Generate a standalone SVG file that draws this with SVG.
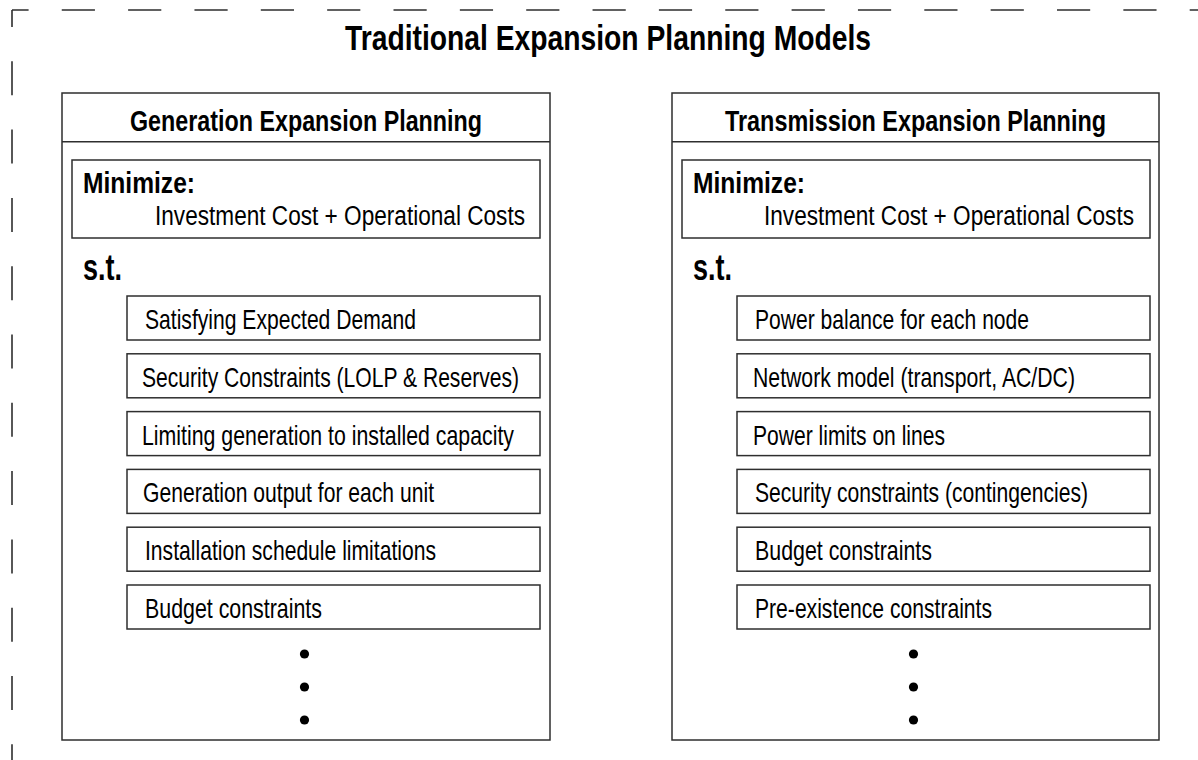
<svg xmlns="http://www.w3.org/2000/svg" width="1198" height="760" viewBox="0 0 1198 760">
<style>
  .frame{fill:none;stroke:#2e2e2e;stroke-width:1.6}
  .box{fill:#fff;stroke:#2e2e2e;stroke-width:1.5}
  .t{font-family:"Liberation Sans",Arial,sans-serif;fill:#000}
  .reg{font-size:28px}
  .bold{font-weight:bold}
  .dot{fill:#000}
</style>
<rect x="0" y="0" width="1198" height="760" fill="#fff"/>
<g id="border">
  <path class="frame" d="M12,10 H1198" stroke-dasharray="33.2 33.15" stroke-dashoffset="16.6"/>
  <path class="frame" d="M12,10 V760" stroke-dasharray="34 34.3" stroke-dashoffset="17"/>
</g>
<g id="title">
  <text class="t bold" x="345" y="50" font-size="35" textLength="526" lengthAdjust="spacingAndGlyphs">Traditional Expansion Planning Models</text>
</g>
<g id="gep">
  <rect class="box" x="62" y="93" width="488" height="647"/>
  <line class="box" x1="62" y1="141.7" x2="550" y2="141.7"/>
  <text class="t bold" x="130" y="131" font-size="29" textLength="352" lengthAdjust="spacingAndGlyphs">Generation Expansion Planning</text>
  <g id="gep-objective">
    <rect class="box" x="72" y="160" width="468" height="78"/>
    <text class="t bold" x="83" y="193" font-size="30" textLength="112" lengthAdjust="spacingAndGlyphs">Minimize:</text>
    <text class="t reg" transform="translate(155,225) scale(0.8,1)" x="0" y="0" textLength="462.5" lengthAdjust="spacingAndGlyphs">Investment Cost + Operational Costs</text>
  </g>
  <text class="t bold" x="83" y="280" font-size="36" textLength="39" lengthAdjust="spacingAndGlyphs">s.t.</text>
  <g id="gep-c1"><rect class="box" x="127" y="296" width="413" height="44"/><text class="t reg" x="145" y="329" textLength="271" lengthAdjust="spacingAndGlyphs">Satisfying Expected Demand</text></g>
  <g id="gep-c2"><rect class="box" x="127" y="353.8" width="413" height="44"/><text class="t reg" x="142" y="386.8" textLength="377" lengthAdjust="spacingAndGlyphs">Security Constraints (LOLP &amp; Reserves)</text></g>
  <g id="gep-c3"><rect class="box" x="127" y="411.6" width="413" height="44"/><text class="t reg" x="142" y="444.6" textLength="372" lengthAdjust="spacingAndGlyphs">Limiting generation to installed capacity</text></g>
  <g id="gep-c4"><rect class="box" x="127" y="469.4" width="413" height="44"/><text class="t reg" x="143" y="502.4" textLength="291" lengthAdjust="spacingAndGlyphs">Generation output for each unit</text></g>
  <g id="gep-c5"><rect class="box" x="127" y="527.2" width="413" height="44"/><text class="t reg" x="145" y="560.2" textLength="291" lengthAdjust="spacingAndGlyphs">Installation schedule limitations</text></g>
  <g id="gep-c6"><rect class="box" x="127" y="585" width="413" height="44"/><text class="t reg" x="145" y="618" textLength="177" lengthAdjust="spacingAndGlyphs">Budget constraints</text></g>
  <g id="gep-dots">
    <circle class="dot" cx="304.5" cy="654" r="4.6"/>
    <circle class="dot" cx="304.5" cy="687" r="4.6"/>
    <circle class="dot" cx="304.5" cy="720" r="4.6"/>
  </g>
</g>
<g id="tep">
  <rect class="box" x="672" y="93" width="487" height="647"/>
  <line class="box" x1="672" y1="141.7" x2="1159" y2="141.7"/>
  <text class="t bold" x="725" y="131" font-size="29" textLength="381" lengthAdjust="spacingAndGlyphs">Transmission Expansion Planning</text>
  <g id="tep-objective">
    <rect class="box" x="682" y="160" width="468" height="78"/>
    <text class="t bold" x="693" y="193" font-size="30" textLength="112" lengthAdjust="spacingAndGlyphs">Minimize:</text>
    <text class="t reg" transform="translate(764,225) scale(0.8,1)" x="0" y="0" textLength="462.5" lengthAdjust="spacingAndGlyphs">Investment Cost + Operational Costs</text>
  </g>
  <text class="t bold" x="693" y="280" font-size="36" textLength="39" lengthAdjust="spacingAndGlyphs">s.t.</text>
  <g id="tep-c1"><rect class="box" x="737" y="296" width="413" height="44"/><text class="t reg" x="755" y="329" textLength="274" lengthAdjust="spacingAndGlyphs">Power balance for each node</text></g>
  <g id="tep-c2"><rect class="box" x="737" y="353.8" width="413" height="44"/><text class="t reg" x="753" y="386.8" textLength="322" lengthAdjust="spacingAndGlyphs">Network model (transport, AC/DC)</text></g>
  <g id="tep-c3"><rect class="box" x="737" y="411.6" width="413" height="44"/><text class="t reg" x="753" y="444.6" textLength="192" lengthAdjust="spacingAndGlyphs">Power limits on lines</text></g>
  <g id="tep-c4"><rect class="box" x="737" y="469.4" width="413" height="44"/><text class="t reg" x="755" y="502.4" textLength="333" lengthAdjust="spacingAndGlyphs">Security constraints (contingencies)</text></g>
  <g id="tep-c5"><rect class="box" x="737" y="527.2" width="413" height="44"/><text class="t reg" x="755" y="560.2" textLength="177" lengthAdjust="spacingAndGlyphs">Budget constraints</text></g>
  <g id="tep-c6"><rect class="box" x="737" y="585" width="413" height="44"/><text class="t reg" x="755" y="618" textLength="237" lengthAdjust="spacingAndGlyphs">Pre-existence constraints</text></g>
  <g id="tep-dots">
    <circle class="dot" cx="913.5" cy="654" r="4.6"/>
    <circle class="dot" cx="913.5" cy="687" r="4.6"/>
    <circle class="dot" cx="913.5" cy="720" r="4.6"/>
  </g>
</g>
<g id="connectors"></g>
</svg>
